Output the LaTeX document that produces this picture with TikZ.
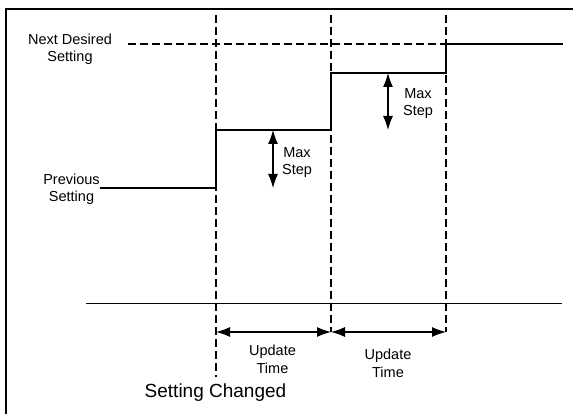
\documentclass[tikz,border=0pt]{standalone}
\usepackage{fontspec}
\setmainfont{Liberation Sans}
\usetikzlibrary{arrows.meta}

\tikzset{
  lbl/.style = {font=\fontsize{14.5}{17.5}\selectfont, align=center, inner sep=0pt, anchor=base},
  guide/.style = {line width=2pt, dash pattern=on 8pt off 4pt},
  level/.style = {line width=1.8pt},
  span/.style = {line width=1.1pt, {Latex[length=14pt,width=10pt]}-{Latex[length=14pt,width=10pt]}}
}

\begin{document}
\begin{tikzpicture}[x=1pt, y=-1pt]
\useasboundingbox (0,0) rectangle (573,414);
\draw[line width=2pt] (6,414) -- (6,9) -- (573,9);
% change times
\coordinate (t1top) at (216,15); \coordinate (t1bot) at (216,377);
\coordinate (t2top) at (331,15); \coordinate (t2bot) at (331,332);
\coordinate (t3top) at (446,15); \coordinate (t3bot) at (446,332);
% levels
\coordinate (prev) at (100,188); \coordinate (s1) at (216,188);
\coordinate (s1up) at (216,130); \coordinate (s2) at (331,130);
\coordinate (s2up) at (331,73); \coordinate (s3) at (446,73);
\coordinate (s3up) at (446,44); \coordinate (goal) at (563,44);
\coordinate (want) at (128,44);
\coordinate (axl) at (86,303); \coordinate (axr) at (562,303);
\node[lbl] (nextlbl) at (70,62) {Next Desired\\Setting};
\node[lbl] (prevlbl) at (71.5,202) {Previous\\Setting};
\node[lbl] (step1lbl) at (297,175) {Max\\Step};
\node[lbl] (step2lbl) at (418,116) {Max\\Step};
\node[lbl] (upd1lbl) at (272.5,373) {Update\\Time};
\node[lbl] (upd2lbl) at (388,377) {Update\\Time};
\node[lbl, font=\fontsize{19}{22}\selectfont] (changelbl) at (215.5,397) {Setting Changed};
\draw[guide] (t1top) -- (t1bot);
\draw[guide] (t2top) -- (t2bot);
\draw[guide] (t3top) -- (t3bot);
\draw[guide] (want) -- (goal);
\draw[level] (prev) -- (s1) -- (s1up) -- (s2) -- (s2up) -- (s3) -- (s3up) -- (goal);
\draw[line width=0.9pt] (axl) -- (axr);
\draw[span] (273,130) coordinate (m1a) -- (273,188) coordinate (m1b);
\draw[span] (388,73) coordinate (m2a) -- (388,130) coordinate (m2b);
\draw[span] (216,332) -- (t2bot);
\draw[span] (t2bot) -- (t3bot);
\end{tikzpicture}
\end{document}
